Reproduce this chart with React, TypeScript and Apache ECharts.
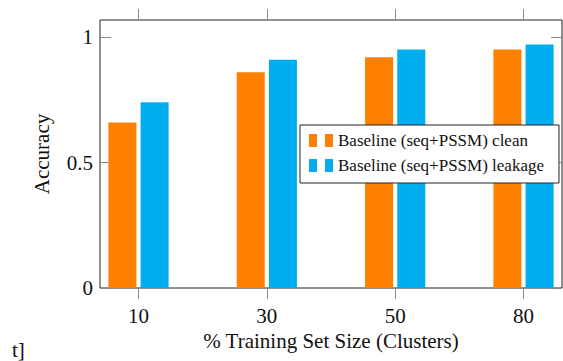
import React, { useEffect, useRef } from "react";
import * as echarts from "echarts";

const categories = ["10", "30", "50", "80"];
const cleanValues = [0.66, 0.86, 0.92, 0.95];
const leakageValues = [0.74, 0.91, 0.95, 0.97];
const yTicks = [0, 0.5, 1];
const seriesNames = ["Baseline (seq+PSSM) clean", "Baseline (seq+PSSM) leakage"];
const xTitle = "% Training Set Size (Clusters)";
const yTitle = "Accuracy";

const FONT = "'Liberation Serif', 'DejaVu Serif', serif";
const TICK = "#8a8a8a";

export default function App() {
  const ref = useRef<HTMLDivElement>(null);
  useEffect(() => {
    if (!ref.current) return;
    const chart = echarts.init(ref.current, null, { renderer: "svg" });
    const xIdx = categories.map((_, i) => i);
    const tick = (inside: boolean, vals: number[]) => ({
      show: true,
      inside,
      length: 11,
      lineStyle: { color: TICK, width: 1 },
      customValues: vals,
    });
    const line = { show: false, onZero: false };
    const option: any = {
      animation: false,
      backgroundColor: "#fff",
      textStyle: { fontFamily: FONT },
      grid: {
        left: 100,
        right: 1,
        top: 20,
        bottom: 73,
        show: true,
        borderColor: "#222",
        borderWidth: 1,
        backgroundColor: "transparent",
      },
      legend: {
        orient: "vertical",
        left: 300,
        top: 125,
        padding: [7, 15, 9, 9],
        itemGap: 8,
        itemWidth: 24,
        itemHeight: 13,
        icon: "path://M0,0h8v13h-8zM16,0h8v13h-8z",
        borderColor: "#222",
        borderWidth: 1,
        backgroundColor: "#fff",
        textStyle: { fontFamily: FONT, fontSize: 17, color: "#111", lineHeight: 17 },
        data: seriesNames,
      },
      xAxis: [
        {
          type: "value",
          min: -0.3,
          max: 3.3,
          position: "bottom",
          name: xTitle,
          nameLocation: "middle",
          nameGap: 41,
          nameTextStyle: { fontFamily: FONT, fontSize: 21, color: "#111" },
          axisLine: line,
          splitLine: { show: false },
          axisTick: tick(false, xIdx),
          axisLabel: {
            fontFamily: FONT,
            fontSize: 21,
            color: "#111",
            margin: 17,
            customValues: xIdx,
            formatter: (v: number) => categories[Math.round(v)] ?? "",
          },
        },
        {
          type: "value",
          min: -0.3,
          max: 3.3,
          position: "top",
          axisLine: line,
          splitLine: { show: false },
          axisTick: tick(false, xIdx),
          axisLabel: { show: false, customValues: xIdx },
        },
      ],
      yAxis: [
        {
          type: "value",
          min: 0,
          max: 1.068,
          position: "left",
          name: yTitle,
          nameLocation: "middle",
          nameGap: 48,
          nameRotate: 90,
          nameTextStyle: { fontFamily: FONT, fontSize: 21, color: "#111" },
          axisLine: line,
          splitLine: { show: false },
          axisTick: tick(true, yTicks),
          axisLabel: {
            fontFamily: FONT,
            fontSize: 21,
            color: "#111",
            margin: 7,
            customValues: yTicks,
            formatter: (v: number) => String(v),
          },
        },
        {
          type: "value",
          min: 0,
          max: 1.068,
          position: "right",
          axisLine: line,
          splitLine: { show: false },
          axisTick: tick(true, yTicks),
          axisLabel: { show: false, customValues: yTicks },
        },
      ],
      series: [
        {
          name: seriesNames[0],
          type: "bar",
          xAxisIndex: 0,
          yAxisIndex: 0,
          barWidth: 28,
          barGap: "15%",
          itemStyle: { color: "#ff8000" },
          data: categories.map((_, i) => [i, cleanValues[i]]),
        },
        {
          name: seriesNames[1],
          type: "bar",
          xAxisIndex: 0,
          yAxisIndex: 0,
          barWidth: 28,
          barGap: "15%",
          itemStyle: { color: "#00aeef" },
          data: categories.map((_, i) => [i, leakageValues[i]]),
        },
      ],
      graphic: [
        {
          type: "text",
          left: 12,
          top: 339,
          style: { text: "t]", font: `21px ${FONT}`, fill: "#111" },
        },
      ],
    };
    chart.setOption(option);
    return () => chart.dispose();
  }, []);
  return (
    <div
      ref={ref}
      style={{ position: "fixed", left: 0, top: 0, width: 563, height: 361 }}
    />
  );
}
